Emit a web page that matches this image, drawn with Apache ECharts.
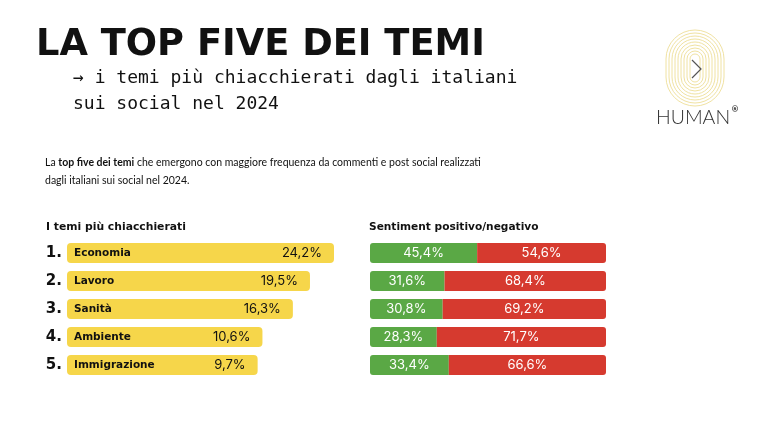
<!DOCTYPE html>
<html>
<head>
<meta charset="utf-8">
<script src="https://cdn.jsdelivr.net/npm/echarts@6/dist/echarts.min.js"></script>
<style>
  html, body { margin: 0; padding: 0; background: #fff; }
  #chart { width: 767px; height: 429px; }
</style>
</head>
<body>
<div id="chart"></div>
<script>
  // dati
  const temi = ['Economia', 'Lavoro', 'Sanità', 'Ambiente', 'Immigrazione']
  const ranks = ['1.', '2.', '3.', '4.', '5.']
  const quota = [24.2, 19.5, 16.3, 10.6, 9.7]
  const positivo = [45.4, 31.6, 30.8, 28.3, 33.4]
  const negativo = [54.6, 68.4, 69.2, 71.7, 66.6]
  const labelSpace = [26, 26, 26, 26, 26]   // spazio per il nome del tema dentro la barra

  const YELLOW = '#f6d64a'
  const GREEN = '#5aa845'
  const RED = '#d63a2f'
  const fmt = v => String(v).replace('.', ',') + '%'

  const myChart = echarts.init(document.getElementById('chart'))

  // barra gialla = spazio etichetta + quota
  const barraGialla = quota.map((v, i) => labelSpace[i] + v)

  // logo: anelli concentrici
  const rings = []
  for (let i = 0; i < 9; i++) {
    const w = 58 - i * 6, h = 76 - i * 6
    rings.push({
      type: 'rect',
      shape: { x: 695 - w / 2, y: 68 - h / 2, width: w, height: h, r: w / 2 },
      style: { fill: null, stroke: '#f0e2a2', lineWidth: 1 }
    })
  }

  const option = {
    backgroundColor: '#fff',
    animation: false,
    title: [
      {
        text: 'LA TOP FIVE DEI TEMI', left: 36, top: 27, padding: 0,
        textStyle: { fontFamily: 'DejaVu Sans', fontWeight: 'bold', fontSize: 36.8, color: '#111' }
      },
      {
        text: '→ i temi più chiacchierati dagli italiani\nsui social nel 2024', left: 73, top: 65, padding: 0,
        textStyle: { fontFamily: 'DejaVu Sans Mono', fontWeight: 'normal', fontSize: 18, lineHeight: 26, color: '#111' }
      },
      {
        text: '{b|La }{bb|top five dei temi}{b| che emergono con maggiore frequenza da commenti e post social realizzati}\n{b|dagli italiani sui social nel 2024.}',
        left: 45, top: 154, padding: 0,
        textStyle: {
          fontWeight: 'normal',
          lineHeight: 18,
          rich: {
            b: { fontFamily: 'Lato', fontWeight: 'normal', fontSize: 10.5, color: '#111', lineHeight: 18 },
            bb: { fontFamily: 'Lato', fontWeight: 'bold', fontSize: 10.5, color: '#111', lineHeight: 18 }
          }
        }
      },
      {
        text: 'I temi più chiacchierati', left: 46, top: 222, padding: 0,
        textStyle: { fontFamily: 'DejaVu Sans', fontWeight: 'bold', fontSize: 10.8, color: '#111' }
      },
      {
        text: 'Sentiment positivo/negativo', left: 369, top: 222, padding: 0,
        textStyle: { fontFamily: 'DejaVu Sans', fontWeight: 'bold', fontSize: 10.6, color: '#111' }
      }
    ],
    grid: [
      { left: 67, right: 433, top: 239, height: 140 },
      { left: 370, right: 161, top: 239, height: 140 }
    ],
    xAxis: [
      { gridIndex: 0, type: 'value', min: 0, max: 50, show: false },
      { gridIndex: 1, type: 'value', min: 0, max: 100, show: false }
    ],
    yAxis: [
      {
        gridIndex: 0, type: 'category', data: ranks, inverse: true,
        axisLine: { show: false }, axisTick: { show: false },
        axisLabel: { margin: 5, fontFamily: 'DejaVu Sans', fontWeight: 'bold', fontSize: 15, color: '#111' }
      },
      {
        gridIndex: 1, type: 'category', data: temi, inverse: true, show: false
      }
    ],
    series: [
      {
        name: 'quota', type: 'bar', xAxisIndex: 0, yAxisIndex: 0,
        data: barraGialla, barWidth: 20, barGap: '-100%',
        itemStyle: { color: YELLOW, borderRadius: 4 },
        label: {
          show: true, position: 'insideRight', distance: 12,
          formatter: p => fmt(quota[p.dataIndex]),
          fontFamily: 'Inter', fontSize: 13, color: '#111'
        }
      },
      {
        name: 'tema', type: 'bar', xAxisIndex: 0, yAxisIndex: 0,
        data: labelSpace, barWidth: 20, barGap: '-100%',
        itemStyle: { color: 'rgba(0,0,0,0)' },
        label: {
          show: true, position: 'insideLeft', distance: 7,
          formatter: p => temi[p.dataIndex],
          fontFamily: 'DejaVu Sans', fontWeight: 'bold', fontSize: 10.5, color: '#111'
        }
      },
      {
        name: 'positivo', type: 'bar', stack: 'dx', xAxisIndex: 1, yAxisIndex: 1,
        data: positivo, barWidth: 20,
        itemStyle: { color: GREEN, borderRadius: [3, 0, 0, 3] },
        label: { show: true, position: 'inside', formatter: p => fmt(p.value), fontFamily: 'Inter', fontSize: 13, color: '#fff' }
      },
      {
        name: 'negativo', type: 'bar', stack: 'dx', xAxisIndex: 1, yAxisIndex: 1,
        data: negativo, barWidth: 20,
        itemStyle: { color: RED, borderRadius: [0, 3, 3, 0] },
        label: { show: true, position: 'inside', formatter: p => fmt(p.value), fontFamily: 'Inter', fontSize: 13, color: '#fff' }
      }
    ],
    graphic: [
      { type: 'group', children: rings },
      {
        type: 'polyline',
        shape: { points: [[692, 60], [701, 69], [692, 78]] },
        style: { fill: null, stroke: '#555', lineWidth: 1.2 }
      },
      {
        type: 'text', left: 656, top: 108,
        style: { text: 'HUMAN', font: '300 19.5px Lato', fill: '#333' }
      },
      {
        type: 'text', left: 731, top: 106,
        style: { text: '®', font: 'bold 8px DejaVu Sans', fill: '#333' }
      }
    ]
  }

  myChart.setOption(option)
</script>
</body>
</html>
